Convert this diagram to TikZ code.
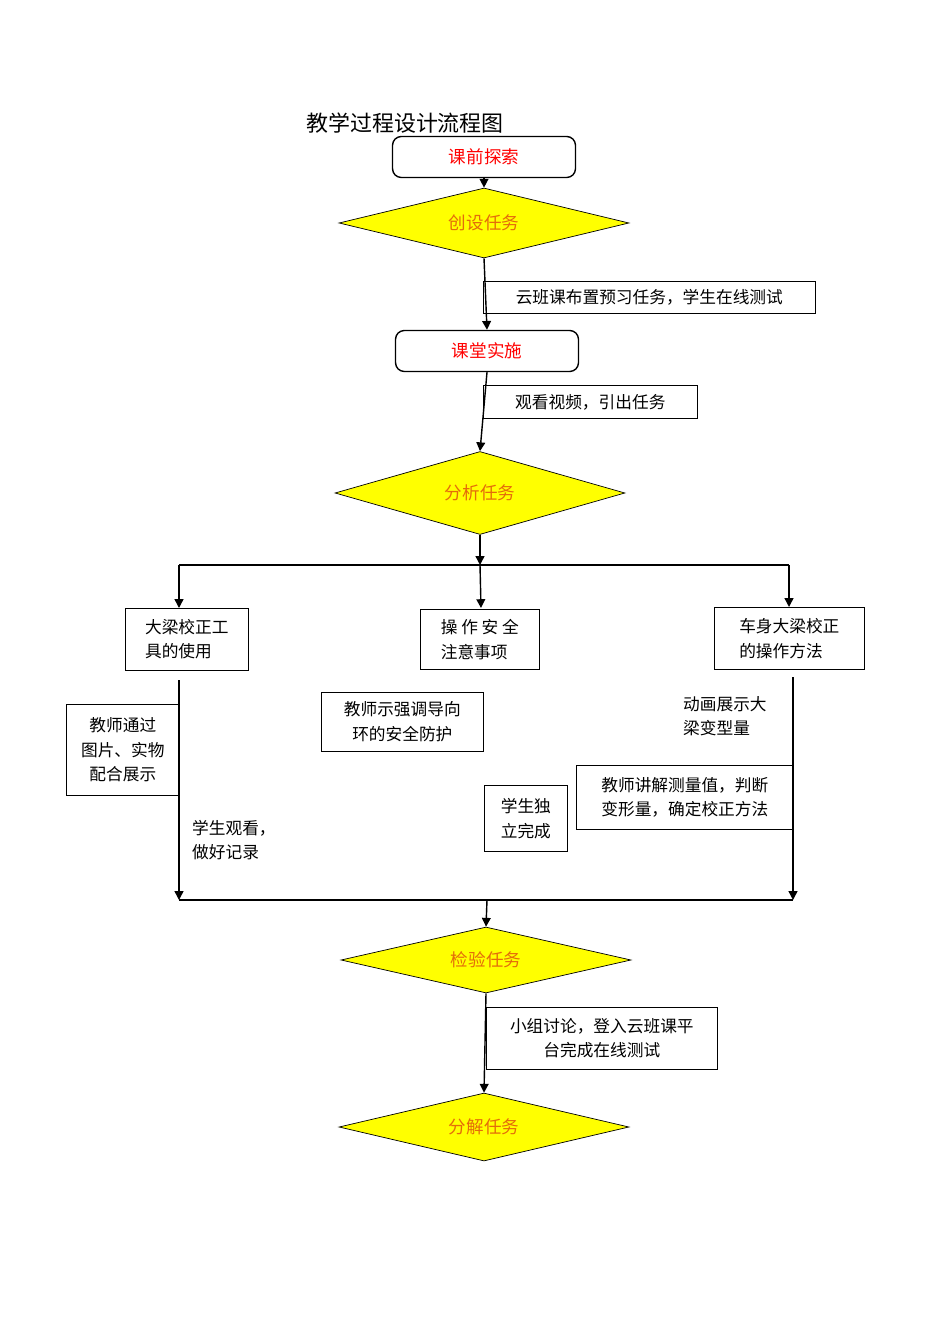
\documentclass[tikz,border=0pt]{standalone}
\usepackage{fontspec}
\setmainfont{Noto Sans CJK SC}
\usetikzlibrary{shapes.geometric,arrows.meta}
\definecolor{dia}{HTML}{FFFF00}
\definecolor{otext}{HTML}{E46C0A}
\tikzset{x=0.02cm,y=-0.02cm,
 rbox/.style={draw,thick,rounded corners=5pt,minimum width=3.66cm,minimum height=0.82cm,text=red,font=\fontsize{10}{12}\selectfont},
 dbox/.style={draw,diamond,fill=dia,aspect=4.3,minimum width=5.8cm,minimum height=1.4cm,inner sep=0pt,text=otext,font=\fontsize{10}{12}\selectfont},
 lbox/.style={draw,rectangle,align=left,font=\fontsize{9.5}{14}\selectfont,inner sep=3pt},
 txt/.style={align=left,font=\fontsize{9.5}{14}\selectfont},
 arr/.style={thick,-{Triangle[length=5pt,width=5pt]}},
 ln/.style={thick}}
\begin{document}
\begin{tikzpicture}
\useasboundingbox (0,0) rectangle (950,1344);
\node[font=\fontsize{12.5}{14}\selectfont,anchor=west] (title) at (300,123) {教学过程设计流程图};
\node[rbox] (a) at (484,157) {课前探索};
\node[dbox] (b) at (484,223) {创设任务};
\node[rbox] (c) at (487,351) {课堂实施};
\node[dbox,minimum height=1.66cm] (d) at (480,493) {分析任务};
\node[lbox,minimum width=6.64cm,minimum height=0.64cm,anchor=west] (l1) at (483,297) {云班课布置预习任务，学生在线测试};
\node[lbox,minimum width=4.28cm,minimum height=0.66cm,anchor=west] (l2) at (483,402) {观看视频，引出任务};
\draw[arr] (a.south) -- (b.north);
\draw[arr] (b.south) -- (c.north);
\draw[arr] (c.south) -- (d.north);
\coordinate (j1) at (480,565);
\draw[arr] (d.south) -- (j1);
\node[lbox,minimum width=2.46cm,minimum height=1.24cm,anchor=north west] (e1) at (125,608) {大梁校正工\\具的使用};
\node[lbox,minimum width=2.38cm,minimum height=1.2cm,anchor=north west] (e2) at (420,609) {操 作 安 全\\注意事项};
\node[lbox,minimum width=3cm,minimum height=1.24cm,anchor=north west] (e3) at (714,607) {车身大梁校正\\的操作方法};
\coordinate (h1) at (179,565); \coordinate (h3) at (789,565);
\draw[ln] (h1) -- (h3);
\draw[arr] (h1) -- (179,608);
\draw[arr] (j1) -- (481,608);
\draw[arr] (h3) -- (789,607);
\coordinate (b1) at (179,900); \coordinate (b3) at (793,900);
\draw[arr] (179,680) -- (b1);
\draw[arr] (793,677) -- (b3);
\draw[ln] (b1) -- (b3);
\node[lbox,align=center,minimum width=2.26cm,minimum height=1.82cm,anchor=north west] (f1) at (66,704) {教师通过\\图片、实物\\配合展示};
\node[txt,anchor=north west] (t1) at (186,814) {学生观看，\\做好记录};
\node[lbox,align=center,minimum width=3.24cm,minimum height=1.18cm,anchor=north west] (f2) at (321,692) {教师示强调导向\\环的安全防护};
\node[txt,anchor=north west] (t2) at (677,690) {动画展示大\\梁变型量};
\node[lbox,align=center,minimum width=4.34cm,minimum height=1.28cm,anchor=north west] (f3) at (576,765) {教师讲解测量值，判断\\变形量，确定校正方法};
\node[lbox,minimum width=1.66cm,minimum height=1.32cm,anchor=north west] (f4) at (484,785) {学生独\\立完成};
\node[dbox,minimum height=1.32cm] (g) at (486,960) {检验任务};
\coordinate (j2) at (487,900);
\draw[arr] (j2) -- (g.north);
\node[dbox,minimum height=1.36cm] (h) at (484,1127) {分解任务};
\draw[arr] (g.south) -- (h.north);
\node[lbox,align=center,minimum width=4.62cm,minimum height=1.24cm,anchor=north west] (l3) at (486,1007) {小组讨论，登入云班课平\\台完成在线测试};
\end{tikzpicture}
\end{document}
